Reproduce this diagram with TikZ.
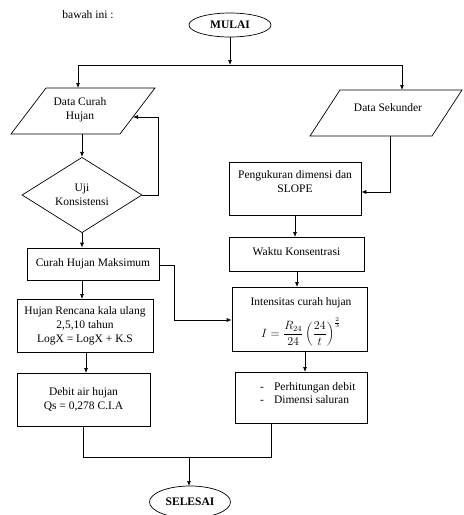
\documentclass[tikz,border=0pt]{standalone}
\usepackage{fontspec}
\setmainfont{Liberation Serif}
\usetikzlibrary{shapes.geometric,arrows.meta}
\begin{document}
\begin{tikzpicture}[x=1pt,y=-1pt,
  every node/.style={font=\fontsize{11.5}{14}\selectfont},
  box/.style={draw, line width=0.7pt, inner sep=0pt, align=center},
  txt/.style={inner sep=0pt, align=center},
  term/.style={draw, ellipse, line width=0.7pt, inner sep=0pt, font=\fontsize{11.5}{13}\selectfont\bfseries},
  conn/.style={line width=0.7pt},
  arr/.style={conn, -{Latex[length=5pt,width=4pt]}}]
\useasboundingbox (0,0) rectangle (464,515);

% header text
\node[txt] (hdr) at (88,15) {bawah ini :};

% terminals
\node[term, minimum width=82pt, minimum height=24pt] (mulai) at (230,25) {MULAI};
\node[term, minimum width=81pt, minimum height=32pt] (selesai) at (190,502) {SELESAI};

% parallelogram: Data Curah Hujan
\draw[line width=0.7pt] (46,88) -- (155,88) -- (120,134) -- (11,134) -- cycle;
\node[txt] (dch) at (80,110) {Data Curah\\Hujan};
\coordinate (dchTop) at (78,88);
\coordinate (dchBot) at (82,134);
\coordinate (dchRight) at (133,117);

% parallelogram: Data Sekunder
\draw[line width=0.7pt] (340,90) -- (462,90) -- (432,136) -- (310,136) -- cycle;
\node[txt] (ds) at (388,108) {Data Sekunder};
\coordinate (dsTop) at (402,90);
\coordinate (dsBot) at (390,136);

% diamond
\node[draw, diamond, line width=0.7pt, inner sep=0pt, minimum width=120pt, minimum height=66pt, align=center] (uji) at (82,195) {Uji\\Konsistensi};

% left column boxes
\node[box, minimum width=132pt, minimum height=32pt] (chm) at (93,264) {Curah Hujan Maksimum};
\node[box, minimum width=136pt, minimum height=53pt] (hr) at (85,325.5) {Hujan Rencana kala ulang\\2,5,10 tahun\\LogX = LogX + K.S};
\node[box, minimum width=133pt, minimum height=53pt] (debit) at (83.5,399.5) {Debit air hujan\\Qs = 0,278 C.I.A};

% right column boxes
\node[box, minimum width=132pt, minimum height=53pt] (peng) at (295,188.5) {};
\node[txt] (pengT) at (295,182) {Pengukuran dimensi dan\\SLOPE};
\node[box, minimum width=135pt, minimum height=34pt] (waktu) at (296.5,254) {};
\node[txt] (waktuT) at (296.5,252) {Waktu Konsentrasi};
\node[box, minimum width=135pt, minimum height=64pt] (inten) at (299.5,319) {};
\node[txt] (intenT) at (301,303) {Intensitas curah hujan};
\node[txt] (intenF) at (301,332) {$\displaystyle I=\frac{R_{24}}{24}\left(\frac{24}{t}\right)^{\frac{2}{3}}$};
\node[box, minimum width=132pt, minimum height=51pt] (final) at (301,397.5) {};
\node[txt, anchor=west, align=left] (finalT) at (260,394.5) {%
  \begin{tabular}{@{}l@{\hspace{10pt}}l@{}}-&Perhitungan debit\\[-1pt]-&Dimensi saluran\end{tabular}};

% connectors
\draw[arr] (mulai.south) -- (mulai.south |- 0,65);
\coordinate (split) at (230,65);
\draw[conn] (dchTop |- split) -- (dsTop |- split);
\draw[arr] (dchTop |- split) -- (dchTop);
\draw[arr] (dsTop |- split) -- (dsTop);

\draw[arr] (dchBot) -- (dchBot |- uji.north);
\draw[arr] (uji.east) -- (158,195) -- (158,117) -- (dchRight);
\draw[arr] (uji.south) -- (uji.south |- chm.north);
\draw[arr] (82,280) -- (82,299);
\draw[arr] (86,352) -- (86,373);

\draw[arr] (chm.east |- 0,265) -- (174,265) -- (174,320) -- (inten.west |- 0,320);

\draw[arr] (dsBot) -- (390,192) -- (peng.east |- 0,192);
\draw[arr] (peng.south -| 295,0) -- (295,237);
\draw[arr] (297,271) -- (297,287);
\draw[arr] (305,351) -- (305,372);

\draw[conn] (83,426) -- (83,457) -- (271,457) -- (271,423);
\draw[arr] (189,457) -- (189,486);
\end{tikzpicture}
\end{document}
